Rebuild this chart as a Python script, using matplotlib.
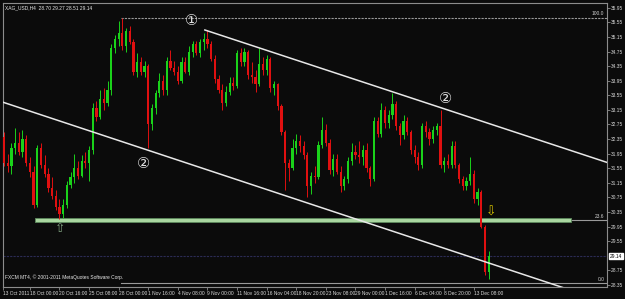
import matplotlib
matplotlib.use("Agg")
import matplotlib.pyplot as plt
import numpy as np

# XAG/USD H4 candles (one candle here ~ 8 hours)
opens = [32.40, 31.70, 31.60, 32.10, 32.25, 32.00, 32.35, 31.70, 31.45, 30.55,
         32.10, 31.65, 31.40, 31.00, 30.80, 30.50, 30.30, 30.55, 31.10, 31.30,
         31.55, 31.35, 31.75, 31.70, 32.05, 33.20, 32.95, 33.45, 33.35, 33.70,
         34.85, 35.10, 35.25, 34.90, 35.30, 35.00, 34.20, 34.45, 34.20, 34.35,
         32.75, 33.20, 33.60, 33.95, 33.70, 34.50, 34.30, 34.20, 33.95, 34.45,
         34.20, 34.75, 34.95, 34.70, 35.00, 35.10, 34.95, 34.55, 34.00, 33.70,
         33.35, 33.65, 33.90, 33.80, 34.70, 34.45, 34.75, 34.10, 34.05, 33.85,
         34.40, 34.25, 34.55, 33.75, 33.85, 33.25, 32.55, 31.70, 31.55, 32.10,
         32.30, 32.15, 31.90, 31.05, 31.35, 31.30, 32.20, 32.60, 32.25, 31.50,
         31.80, 31.45, 31.05, 31.25, 31.75, 32.00, 31.90, 31.85, 32.05, 31.55,
         31.25, 32.85, 32.50, 33.15, 32.80, 33.00, 33.30, 32.70, 32.45, 32.85,
         32.55, 32.05, 31.85, 31.65, 32.70, 32.55, 32.35, 32.60, 32.70, 31.65,
         31.75, 31.65, 32.15, 31.65, 31.25, 31.05, 31.20, 31.40, 30.70, 30.90,
         29.95, 28.70]
highs = [32.55, 31.95, 32.25, 32.65, 32.55, 32.60, 32.45, 31.85, 31.60, 32.20,
         32.25, 31.90, 31.55, 31.30, 30.95, 30.70, 30.70, 31.20, 31.45, 31.95,
         31.75, 31.90, 32.00, 32.15, 33.35, 33.40, 33.70, 33.75, 33.95, 34.95,
         35.20, 35.60, 35.68, 35.40, 35.45, 35.10, 34.70, 34.60, 34.50, 34.40,
         33.30, 33.70, 34.15, 34.10, 34.60, 34.80, 34.50, 34.35, 34.60, 34.60,
         34.90, 35.05, 35.05, 35.10, 35.25, 35.35, 35.05, 34.65, 34.10, 33.85,
         33.80, 34.05, 34.05, 34.80, 34.85, 34.85, 34.80, 34.45, 34.25, 34.85,
         34.60, 34.65, 34.60, 33.95, 33.90, 33.30, 32.60, 31.80, 32.35, 32.50,
         32.45, 32.30, 32.00, 31.45, 31.60, 32.30, 32.95, 32.75, 32.35, 31.95,
         31.95, 31.60, 31.35, 31.85, 32.25, 32.20, 32.30, 32.20, 32.25, 31.60,
         32.95, 32.95, 33.35, 33.25, 33.15, 33.60, 33.40, 32.80, 33.00, 32.95,
         32.60, 32.20, 32.00, 32.80, 32.85, 32.65, 32.70, 32.80, 33.15, 31.85,
         31.95, 32.30, 32.30, 31.70, 31.35, 31.30, 31.85, 31.50, 31.00, 30.95,
         30.00, 29.27]
lows = [31.60, 31.45, 31.40, 31.95, 31.90, 31.85, 31.60, 31.30, 30.45, 30.50,
        31.55, 31.30, 30.90, 30.70, 30.40, 30.15, 30.20, 30.45, 31.00, 31.15,
        31.25, 31.30, 31.55, 31.20, 31.95, 32.85, 32.90, 33.15, 33.25, 33.55,
        34.70, 34.90, 34.80, 34.75, 34.95, 34.10, 34.05, 34.10, 34.05, 32.10,
        32.60, 33.05, 33.50, 33.55, 33.55, 34.25, 34.10, 33.85, 33.90, 34.15,
        34.10, 34.60, 34.65, 34.60, 34.80, 34.85, 34.50, 33.90, 33.60, 33.15,
        33.25, 33.55, 33.70, 33.75, 34.35, 34.35, 34.00, 33.90, 33.65, 33.80,
        34.10, 34.10, 33.65, 33.55, 33.15, 32.45, 30.95, 31.20, 31.50, 31.95,
        32.00, 31.80, 30.75, 30.85, 31.15, 31.25, 32.10, 32.15, 31.40, 31.35,
        31.40, 30.90, 30.95, 31.15, 31.65, 31.80, 31.70, 31.65, 31.45, 31.05,
        31.20, 32.40, 32.40, 32.65, 32.65, 32.90, 32.60, 32.20, 32.35, 32.45,
        31.95, 31.70, 31.50, 31.55, 32.40, 32.20, 32.25, 32.45, 31.55, 31.45,
        31.55, 31.55, 31.55, 31.15, 30.95, 30.95, 31.10, 30.60, 30.55, 29.90,
        28.62, 28.51]
closes = [31.70, 31.60, 32.10, 32.25, 32.00, 32.35, 31.70, 31.45, 30.55, 32.10,
          31.65, 31.40, 31.00, 30.80, 30.50, 30.30, 30.55, 31.10, 31.30, 31.55,
          31.35, 31.75, 31.70, 32.05, 33.20, 32.95, 33.45, 33.35, 33.70, 34.85,
          35.10, 35.25, 34.90, 35.30, 35.00, 34.20, 34.45, 34.20, 34.35, 32.75,
          33.20, 33.60, 33.95, 33.70, 34.50, 34.30, 34.20, 33.95, 34.45, 34.20,
          34.75, 34.95, 34.70, 35.00, 35.10, 34.95, 34.55, 34.00, 33.70, 33.35,
          33.65, 33.90, 33.80, 34.70, 34.45, 34.75, 34.10, 34.05, 33.85, 34.40,
          34.25, 34.55, 33.75, 33.85, 33.25, 32.55, 31.70, 31.55, 32.10, 32.30,
          32.15, 31.90, 31.05, 31.35, 31.30, 32.20, 32.60, 32.25, 31.50, 31.80,
          31.45, 31.05, 31.25, 31.75, 32.00, 31.90, 31.85, 32.05, 31.55, 31.25,
          32.85, 32.50, 33.15, 32.80, 33.00, 33.30, 32.70, 32.45, 32.85, 32.55,
          32.05, 31.85, 31.65, 32.70, 32.55, 32.35, 32.60, 32.70, 31.65, 31.75,
          31.65, 32.15, 31.65, 31.25, 31.05, 31.20, 31.40, 30.70, 30.90, 29.95,
          28.70, 29.14]

time_ticks = [-0.27, 7, 15, 23, 31, 39, 47, 55, 63, 71, 79, 87, 95, 103, 111, 119, 127]
time_labels = ["13 Oct 2011", "18 Oct 00:00", "20 Oct 16:00", "25 Oct 08:00",
               "28 Oct 00:00", "1 Nov 16:00", "4 Nov 08:00", "9 Nov 00:00",
               "11 Nov 16:00", "16 Nov 04:00", "18 Nov 20:00", "23 Nov 08:00",
               "29 Nov 00:00", "1 Dec 16:00", "6 Dec 04:00", "8 Dec 20:00",
               "13 Dec 08:00"]
price_ticks = [35.95, 35.55, 35.15, 34.75, 34.35, 33.95, 33.55, 33.15, 32.75, 32.35,
               31.95, 31.55, 31.15, 30.75, 30.35, 29.95, 29.55, 28.75, 28.35]

# drawing objects on the chart
fib_levels = [("100.0", 35.67), ("23.6", 30.12), ("0.0", 28.40)]
fib_start = 31.6
upper_line = ([54.3, 163.0], [35.34, 31.71])
lower_line = ([-0.27, 163.0], [33.36, 27.88])
band_x = (8.4, 153.2)
last_price = 29.14

bg = "#0b0b0b"
bull = "#1ad21a"
bear = "#e01010"
grid_col = "#8c8c8c"
small = 3.5
sf = ["Liberation Sans", "DejaVu Sans"]

fig = plt.figure(figsize=(6.25, 2.99), dpi=100, facecolor=bg)
ax = fig.add_axes([3 / 625, 12 / 299, 604 / 625, 284 / 299])
ax.set_facecolor(bg)

o = np.array(opens)
h = np.array(highs)
l = np.array(lows)
c = np.array(closes)
x = np.arange(len(c))
cols = np.where(c >= o, bull, bear)

ax.vlines(x, l, h, colors=cols, linewidth=0.7, zorder=3)
body = np.maximum(np.abs(c - o), 0.02)
ax.bar(x, body, bottom=np.minimum(o, c), width=0.6, color=cols, linewidth=0, zorder=3)

# fibo lines
for name, lvl in fib_levels:
    ls = (0, (2, 1)) if name == "100.0" else "-"
    ax.plot([fib_start, 163], [lvl, lvl], color="#9a9a9a", lw=0.8, ls=ls, zorder=2)
    ax.text(162.3, lvl + 0.04, name, color="#d0d0d0", fontsize=small, family=sf,
            ha="right", va="bottom", zorder=4)

# support band
ax.fill_between(band_x, 30.075, 30.175, color="#a9d6a0", ec="#5d8a5d", lw=0.6, zorder=2)

# channel
ax.plot(*upper_line, color="#e8e8e8", lw=1.1, zorder=4)
ax.plot(*lower_line, color="#e8e8e8", lw=1.1, zorder=4)

# current price line
ax.axhline(last_price, color="#2c2c55", lw=0.8, ls=(0, (2, 1)), zorder=1)

# wave marks and arrows
cf = ["DejaVu Sans", "Noto Sans CJK JP"]
ax.text(50.8, 35.60, "\u2460", color="#e0e0e0", fontsize=10.5, family=cf,
        ha="center", va="center", zorder=5)
ax.text(37.8, 31.69, "\u2461", color="#e0e0e0", fontsize=10.5, family=cf,
        ha="center", va="center", zorder=5)
ax.text(119.2, 33.46, "\u2461", color="#e0e0e0", fontsize=10.5, family=cf,
        ha="center", va="center", zorder=5)
ax.text(15.1, 29.90, "\u21e7", color="#7fa07f", fontsize=9,
        ha="center", va="center", zorder=5)
ax.text(131.6, 30.36, "\u21e9", color="#d8c400", fontsize=9,
        ha="center", va="center", zorder=5)

ax.text(0.004, 0.992, "XAG_USD,H4  28.70 29.27 28.51 29.14", transform=ax.transAxes,
        color="#e8e8e8", fontsize=small, family=sf, ha="left", va="top")
ax.text(0.004, 0.025, "FXCM MT4, \u00a9 2001-2011 MetaQuotes Software Corp.",
        transform=ax.transAxes, color="#e8e8e8", fontsize=small, family=sf,
        ha="left", va="bottom")

ax.set_xlim(-0.27, 163.0)
ax.set_ylim(28.295, 36.08)

ax.yaxis.tick_right()
ax.set_yticks(price_ticks)
ax.set_yticklabels([f"{p:.2f}" for p in price_ticks], family=sf)
ax.set_xticks(time_ticks)
ax.set_xticklabels(time_labels, family=sf)
for lab in ax.get_xticklabels():
    lab.set_horizontalalignment("left")
ax.tick_params(axis="both", colors=grid_col, labelcolor="#d8d8d8", labelsize=small,
               length=2, width=0.6, pad=1)
for s in ax.spines.values():
    s.set_color(grid_col)
    s.set_linewidth(0.8)

# price box on the right scale
ax.text(1.004, last_price, f"{last_price:.2f}", transform=ax.get_yaxis_transform(),
        color="black", fontsize=small, family=sf, ha="left", va="center",
        bbox=dict(boxstyle="square,pad=0.15", fc="white", ec="white"))

fig.savefig("out.png", dpi=100, facecolor=bg)
